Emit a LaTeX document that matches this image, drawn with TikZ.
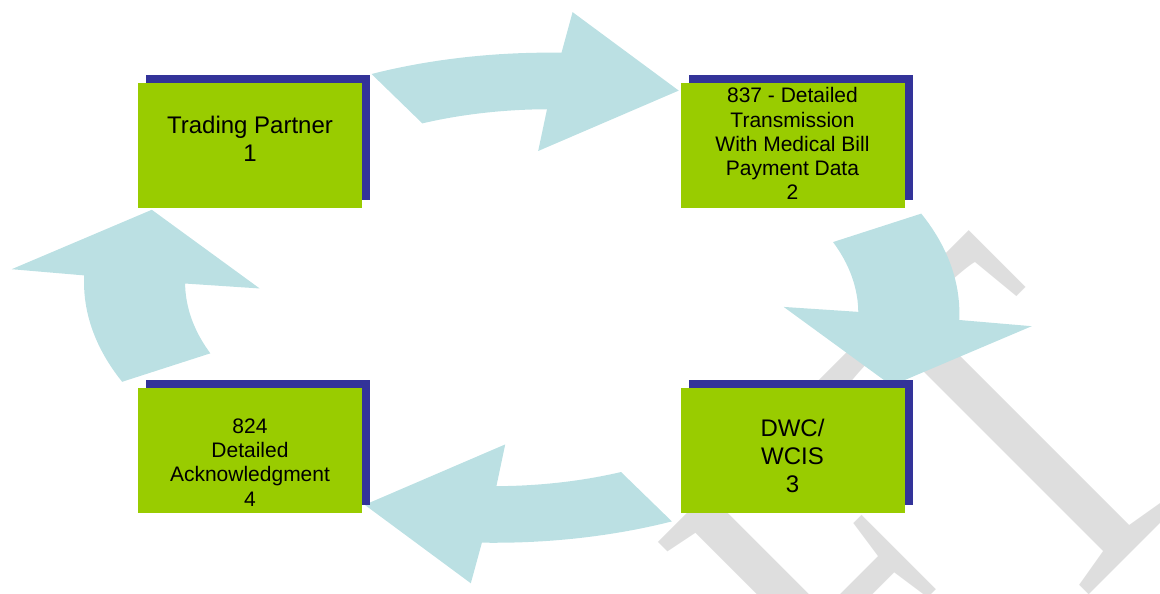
\documentclass[tikz,border=0pt]{standalone}
\usepackage{fontspec}
\setmainfont{Liberation Sans}
\newfontfamily\wmfont{Liberation Serif}
\usetikzlibrary{positioning,shadows}

\definecolor{boxgreen}{RGB}{153,204,0}
\definecolor{boxshade}{RGB}{51,51,153}
\definecolor{cyclecyan}{RGB}{187,224,227}
\definecolor{wmgray}{RGB}{222,222,222}

\begin{document}
\begin{tikzpicture}[x=1pt,y=-1pt,
    stage/.style={fill=boxgreen,minimum width=224pt,minimum height=125pt,inner sep=0pt,
      general shadow={fill=boxshade,shadow xshift=8pt,shadow yshift=8pt}},
    bigtxt/.style={align=center,inner sep=0pt,font=\fontsize{24}{27.8}\selectfont},
    smalltxt/.style={align=center,inner sep=0pt,font=\fontsize{21}{24.2}\selectfont},
    flow/.style={fill=cyclecyan}]
  \useasboundingbox (0,0) rectangle (1160,594);

  % watermark
  \begin{scope}
    \clip (0,0) rectangle (1160,594);
    \node[wmgray,rotate=45,anchor=base east,inner sep=0pt,
      font=\wmfont\fontsize{523}{523}\selectfont] (draft) at (1216.2,468.1)
      {\scalebox{0.75}[1]{DRAFT}};
  \end{scope}

  % cycle arrows
  \begin{scope}[shift={(521.7,297.7)},xscale=1.786,yscale=-1]
    \foreach \r in {0,-90,-180,-270}
      \fill[flow] ({110.6+\r}:239)
        -- plot[domain=110.6:84.8,samples=20] ({\x+\r}:{239+7*(110.6-\x)/25.8})
        -- ({84.3+\r}:287) -- ({67+\r}:225) -- ({86.4+\r}:147) -- ({85.7+\r}:189)
        -- plot[domain=85.7:107.7,samples=20] ({\x+\r}:{189-6*(\x-85.7)/22})
        -- cycle;
  \end{scope}

  \node[stage] (tp) at (250,145.5) {};
  \node[stage] (edi) at (792.5,145.5) {};
  \node[stage] (dwc) at (792.5,450.25) {};
  \node[stage] (ack) at (250,450.25) {};

  \node[bigtxt,below=33.1pt of tp.north] (tplabel) {Trading Partner\\1};
  \node[smalltxt,below=4.6pt of edi.north] (edilabel)
    {837 - Detailed\\Transmission\\With Medical Bill\\Payment Data\\2};
  \node[bigtxt,below=31.5pt of dwc.north] (dwclabel) {DWC/\\WCIS\\3};
  \node[smalltxt,below=31pt of ack.north] (acklabel) {824\\Detailed\\Acknowledgment\\4};
\end{tikzpicture}
\end{document}
